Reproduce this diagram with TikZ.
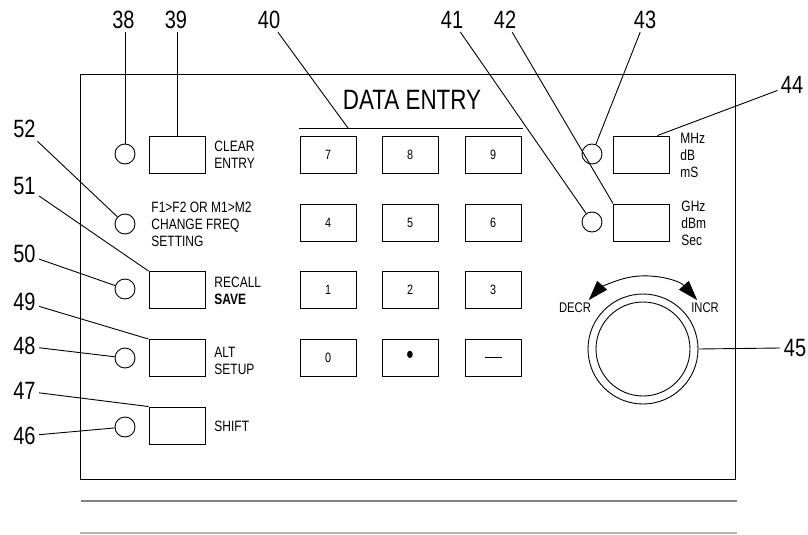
\documentclass[tikz,border=0pt]{standalone}
\usepackage{fontspec}
\setmainfont{Liberation Sans}[FakeStretch=0.8]
\usetikzlibrary{arrows.meta,calc}
\begin{document}
\begin{tikzpicture}[x=1pt, y=-1pt, line width=0.9pt,
    lamp/.style = {draw, circle, minimum size=20pt, inner sep=0pt},
    key/.style = {draw, minimum width=56pt, minimum height=37pt, inner sep=0pt, font=\fontsize{13.5}{13.5}\selectfont},
    num/.style = {inner sep=3pt, font=\fontsize{25}{25}\selectfont},
    txt/.style = {anchor=west, align=left, inner sep=0pt, font=\fontsize{15}{17}\selectfont},
    dialtxt/.style = {inner sep=0pt, font=\fontsize{14}{14}\selectfont}]
    \useasboundingbox (0,0) rectangle (808,535);

    \draw (80,74) rectangle (735,479);
    \draw [line width=1.6pt, gray] (81,501) -- (737,501);
    \draw [line width=1.3pt, black!30] (80,533) -- (737,533);

    \node[lamp] (c38) at (125,154) {};
    \node[key] (b39) at (177,154.5) {};
    \node[txt] (t39) at (214,155) {CLEAR\\ENTRY};
    \node[lamp] (c52) at (125,224) {};
    \node[txt] (t52) at (151,224) {F1>F2 OR M1>M2\\CHANGE FREQ\\SETTING};
    \node[lamp] (c50) at (125,289) {};
    \node[key] (b51) at (177,290) {};
    \node[txt] (t51) at (214,291) {RECALL\\\textbf{SAVE}};
    \node[lamp] (c48) at (125,358) {};
    \node[key] (b49) at (177,358) {};
    \node[txt] (t49) at (214,361) {ALT\\SETUP};
    \node[lamp] (c46) at (125,427) {};
    \node[key] (b47) at (177,425.5) {};
    \node[txt] (t47) at (214,426) {SHIFT};

    \node[font=\fontsize{28}{28}\selectfont, inner sep=0pt] (title) at (412,100) {DATA ENTRY};
    \coordinate (ulL) at (299,128);
    \coordinate (ulR) at (523,128);
    \coordinate (ul40) at (348,128);
    \draw (ulL) -- (ulR);

    \node[key] (k7) at (328,154.5) {7};
    \node[key] (k8) at (410,154.5) {8};
    \node[key] (k9) at (493,154.5) {9};
    \node[key] (k4) at (328,222.5) {4};
    \node[key] (k5) at (410,222.5) {5};
    \node[key] (k6) at (493,222.5) {6};
    \node[key] (k1) at (328,290) {1};
    \node[key] (k2) at (410,290) {2};
    \node[key] (k3) at (493,290) {3};
    \node[key] (k0) at (328,357.5) {0};
    \node[key] (kdot) at (410,357.5) {\fontsize{26}{26}\selectfont •};
    \node[key] (kdash) at (493,357.5) {\rule{17pt}{0.9pt}};

    \node[lamp] (c43) at (592,154) {};
    \node[key] (b44) at (641.5,154.5) {};
    \node[txt] (t44) at (680,155) {MHz\\dB\\mS};
    \node[lamp] (c41) at (592,222) {};
    \node[key] (b42) at (641.5,222.5) {};
    \node[txt] (t42) at (681,223) {GHz\\dBm\\Sec};

    \node[draw, circle, minimum size=110pt, inner sep=0pt] (knob) at (643,349) {};
    \node[draw, circle, minimum size=94pt, inner sep=0pt] (knobin) at (knob.center) {};
    \coordinate (incr) at ($(knob.center)+(318:73)$);
    \draw [{Triangle[length=20pt,width=13pt]}-{Triangle[length=20pt,width=13pt]}] (incr) arc[start angle=318, end angle=222, radius=73];
    \node[dialtxt] (tdecr) at (575,308) {DECR};
    \node[dialtxt] (tincr) at (705,308) {INCR};

    \node[num] (n38) at (123.5,20) {38};
    \node[num] (n39) at (176,20) {39};
    \node[num] (n40) at (269,20) {40};
    \node[num] (n41) at (452,20) {41};
    \node[num] (n42) at (505,20) {42};
    \node[num] (n43) at (645,20) {43};
    \node[num] (n44) at (792,85) {44};
    \node[num] (n45) at (795,348) {45};
    \node[num] (n52) at (24.5,129) {52};
    \node[num] (n51) at (24.5,186) {51};
    \node[num] (n50) at (24.5,254) {50};
    \node[num] (n49) at (24.5,302) {49};
    \node[num] (n48) at (24.5,346) {48};
    \node[num] (n47) at (24.5,391) {47};
    \node[num] (n46) at (24.5,436) {46};

    \draw (c38.north) -- (c38.north |- n38.south);
    \draw (b39.north) -- (b39.north |- n39.south);
    \draw (n40) -- (ul40);
    \draw (n41) -- (c41);
    \draw (n42) -- (b42.north west);
    \draw (n43) -- (c43);
    \draw (n44) -- (b44.50);
    \draw (knob.east) -- (n45.west);
    \draw (n52) -- (c52);
    \draw (n51) -- (b51.north west);
    \draw (n50) -- (c50);
    \draw (n49) -- (b49.north west);
    \draw (n48) -- (c48);
    \draw (n47) -- (b47.north west);
    \draw (n46) -- (c46);
\end{tikzpicture}
\end{document}
